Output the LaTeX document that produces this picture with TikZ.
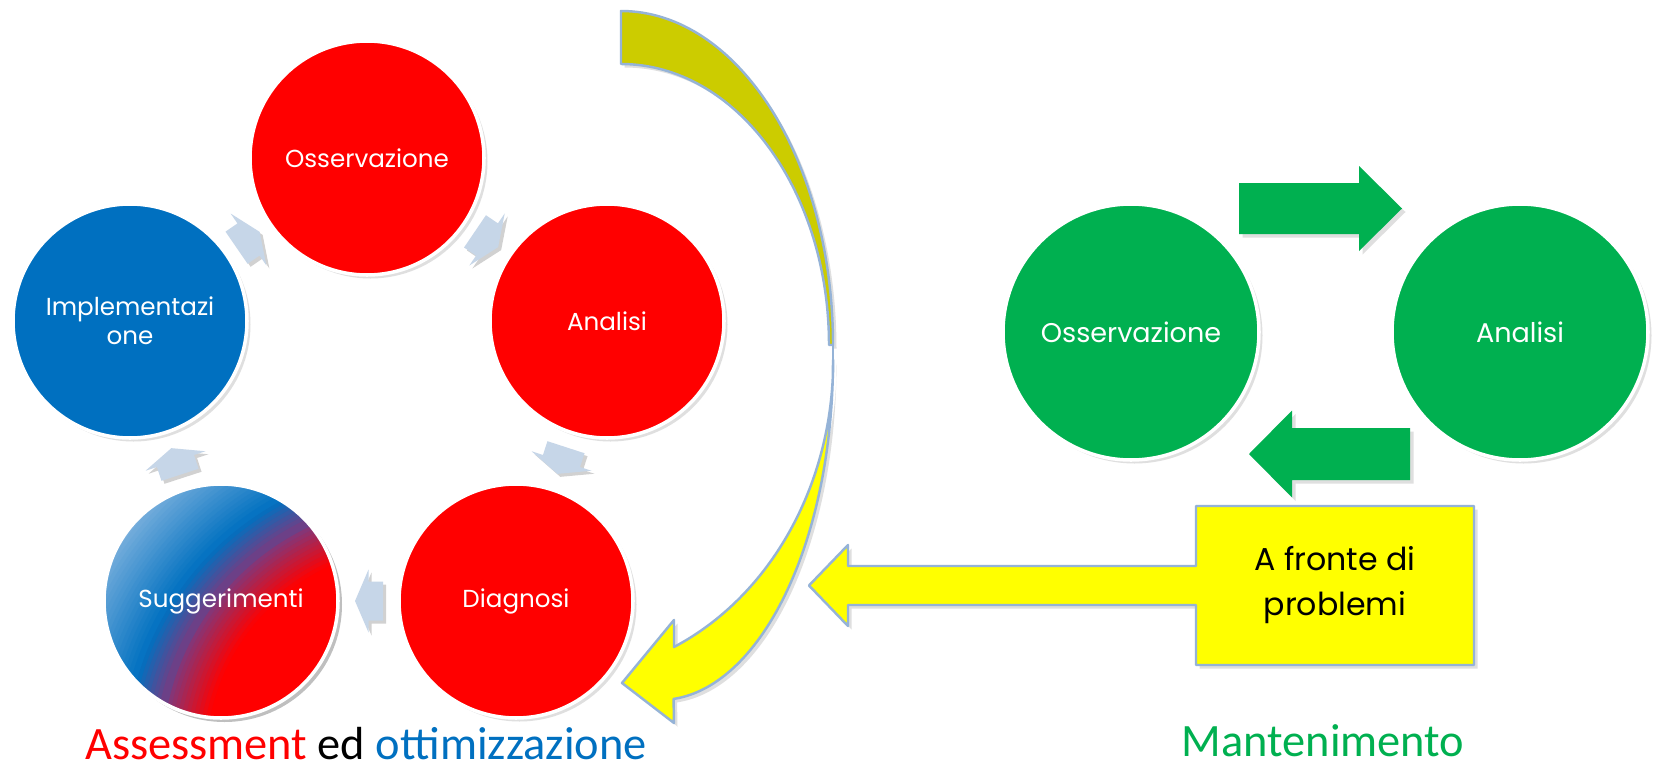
\documentclass[tikz,border=0pt]{standalone}
\usepackage{fontspec}
\newfontfamily\circfont{Poppins}
\newfontfamily\titlefont{Carlito}
\usetikzlibrary{calc,shadows}

\definecolor{stagered}{RGB}{255,0,0}
\definecolor{stageblue}{RGB}{0,112,192}
\definecolor{stagegreen}{RGB}{0,176,80}
\definecolor{lightblue}{RGB}{160,196,230}
\definecolor{midpurple}{RGB}{122,58,128}
\definecolor{cyclefill}{RGB}{198,214,232}
\definecolor{arrowline}{RGB}{149,179,215}
\definecolor{backolive}{RGB}{204,204,0}
\definecolor{frontyellow}{RGB}{255,255,0}

\tikzset{
  softshadow/.style={drop shadow={shadow xshift=0.035cm, shadow yshift=-0.035cm, opacity=0.25}},
  flatstage/.style={circle, draw=white, line width=1pt, minimum size=2.34cm, inner sep=0pt,
    text=white, align=center, font=\circfont\fontsize{7}{8.3}\selectfont},
  stage/.style={flatstage, softshadow},
  bigstage/.style={stage, minimum size=2.56cm, font=\circfont\fontsize{7.7}{9}\selectfont},
  bigarrow/.style={draw=arrowline, line width=0.7pt, line join=round, softshadow},
  greenarrow/.style={fill=stagegreen, softshadow},
  cycleshade/.style={fill=black, opacity=0.18},
  cyclebody/.style={fill=cyclefill},
  problemtext/.style={font=\circfont\fontsize{9}{12.8}\selectfont, align=center, text=black},
  titletext/.style={font=\titlefont\fontsize{13.2}{15}\selectfont, anchor=base}
}

\begin{document}
\begin{tikzpicture}
\fill[white] (0,0) rectangle (16.53,7.64);
\useasboundingbox (0,0) rectangle (16.53,7.64);

% Cycle of the five stages
\node[stage, fill=stagered] (oss) at (3.67,6.06) {Osservazione};
\node[stage, fill=stagered] (ana) at (6.07,4.43) {Analisi};
\node[stage, fill=stagered] (dia) at (5.16,1.63) {Diagnosi};
% shaded stage: shadow, gradient rings, then border and text
\fill[black, opacity=0.25] (2.245,1.595) circle (1.175cm);
\begin{scope}
  \clip (2.21,1.63) circle (1.17cm);
  \foreach \r in {3.80,3.76,...,2.97}{
    \pgfmathsetmacro\mix{max(0,min(100,100*(\r-2.96)/1.04))}
    \fill[lightblue!\mix!stageblue] (4.20,0.04) circle (\r);}
  \foreach \r in {2.94,2.90,...,2.63}{
    \pgfmathsetmacro\mix{max(0,min(100,100*(\r-2.62)/0.34))}
    \fill[stageblue!\mix!midpurple] (4.20,0.04) circle (\r);}
  \foreach \r in {2.58,2.54,...,2.17}{
    \pgfmathsetmacro\mix{max(0,min(100,100*(\r-2.16)/0.46))}
    \fill[midpurple!\mix!stagered] (4.20,0.04) circle (\r);}
  \fill[stagered] (4.20,0.04) circle (2.14);
\end{scope}
\node[flatstage] (sug) at (2.21,1.63) {Suggerimenti};
\node[stage, fill=stageblue] (imp) at (1.30,4.43) {Implementazi\\one};

% Small arrows between the stages
\foreach \from/\to in {oss/ana,ana/dia,dia/sug,sug/imp,imp/oss}{
  \pgfmathanglebetweenpoints{\pgfpointanchor{\from}{center}}{\pgfpointanchor{\to}{center}}
  \let\arrowangle\pgfmathresult
  \foreach \off/\tone in {0.03/cycleshade,0/cyclebody}
    \fill[\tone, shift={($(\from)!0.5!(\to)+(\off,-\off)$)}, rotate=\arrowangle]
      (-0.145,0.195) -- (0,0.195) -- (0,0.315) -- (0.135,0) -- (0,-0.315)
      -- (0,-0.195) -- (-0.145,-0.195) -- cycle;
}

% Big curved arrow (back part, then front part with the head)
\draw[bigarrow, fill=backolive] (6.21,7.53)
  arc[start angle=90, end angle=0, x radius=2.12, y radius=3.34]
  -- (8.29,4.19) arc[start angle=0, end angle=90, x radius=2.08, y radius=2.81] -- cycle;
\draw[bigarrow, fill=frontyellow] (8.33,4.04)
  arc[start angle=0, end angle=-85.5, x radius=1.73, y radius=3.40]
  -- (6.74,0.41) -- (6.22,0.81) -- (6.74,1.44) -- (6.74,1.17)
  arc[start angle=-65.5, end angle=0, x radius=2.72, y radius=3.15] -- cycle;
\draw[draw=arrowline, line width=0.7pt] (8.33,4.19) -- (8.33,4.04);

% Callout box with its arrow
\draw[bigarrow, fill=frontyellow] (11.96,2.58) -- (14.74,2.58) -- (14.74,0.99) -- (11.96,0.99)
  -- (11.96,1.59) -- (8.48,1.59) -- (8.48,1.38) -- (8.09,1.785) -- (8.48,2.19)
  -- (8.48,1.98) -- (11.96,1.98) -- cycle;
\node[problemtext] (fronte) at (13.35,1.785) {A fronte di\\problemi};

% Maintenance loop
\node[bigstage, fill=stagegreen] (goss) at (11.31,4.32) {Osservazione};
\node[bigstage, fill=stagegreen] (gana) at (15.20,4.32) {Analisi};
\coordinate (gmid) at ($(goss)!0.5!(gana)$);
\fill[greenarrow, shift={($(gmid)+(0,1.235)$)}]
  (-0.865,0.255) -- (0.335,0.255) -- (0.335,0.425) -- (0.765,0) -- (0.335,-0.425)
  -- (0.335,-0.255) -- (-0.865,-0.255) -- cycle;
\fill[greenarrow, shift={($(gmid)+(0,-1.22)$)}]
  (0.845,0.26) -- (-0.335,0.26) -- (-0.335,0.435) -- (-0.765,0) -- (-0.335,-0.435)
  -- (-0.335,-0.26) -- (0.845,-0.26) -- cycle;

% Titles
\node[titletext] (assess) at (3.66,0.05)
  {\textcolor{stagered}{Assessment} ed \textcolor{stageblue}{ottimizzazione}};
\node[titletext, text=stagegreen] (mant) at (13.23,0.08) {Mantenimento};
\end{tikzpicture}
\end{document}
